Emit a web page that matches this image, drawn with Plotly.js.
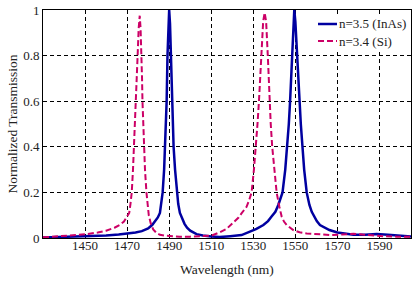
<!DOCTYPE html>
<html>
<head>
<meta charset="utf-8">
<script src="https://cdn.plot.ly/plotly-3.0.1.min.js"></script>
<style>html,body{margin:0;padding:0;background:#fff;}#chart{width:417px;height:287px;}</style>
</head>
<body>
<div id="chart"></div>
<script>
// n = 3.5 (InAs) — blue solid
const wlInAs = [1430,1440,1450,1460,1466,1470,1474,1477,1480,1482,1483.5,1484.6,1485.6,1486.3,1486.9,1487.6,1488.1,1488.5,1488.8,1489.2,1489.6,1490.0,1490.4,1490.8,1491.3,1491.7,1492.1,1492.8,1493.7,1494.3,1495.1,1496.2,1497.3,1498.5,1500,1503,1506,1510,1514,1519,1524.4,1528.4,1531.5,1534.8,1537,1538.7,1540.5,1541.9,1543.9,1545.2,1546.2,1546.9,1547.5,1548.4,1549.0,1549.5,1550.0,1550.8,1551.9,1552.6,1553.4,1554.2,1555.4,1556.7,1557.8,1558.9,1560.2,1561.7,1566.2,1570,1577.6,1583,1588.7,1594,1599.8,1605];
const tInAs  = [0.002,0.004,0.006,0.011,0.015,0.019,0.024,0.030,0.042,0.058,0.075,0.090,0.110,0.150,0.200,0.300,0.400,0.500,0.600,0.800,0.940,1.000,0.940,0.800,0.600,0.500,0.400,0.300,0.200,0.150,0.110,0.085,0.062,0.045,0.032,0.017,0.011,0.007,0.004,0.008,0.013,0.028,0.040,0.057,0.074,0.094,0.115,0.145,0.200,0.300,0.400,0.500,0.600,0.800,0.950,1.000,0.950,0.800,0.600,0.500,0.400,0.300,0.200,0.145,0.115,0.094,0.074,0.057,0.035,0.024,0.014,0.014,0.017,0.014,0.012,0.007];

// n = 3.4 (Si) — magenta dashed
const wlSi = [1430,1440,1450,1456,1460,1464,1466.5,1468.5,1470,1471,1471.6,1472.2,1472.8,1473.3,1473.7,1474.1,1474.6,1475.0,1475.5,1476.0,1476.4,1476.9,1477.1,1477.3,1477.6,1478.0,1478.5,1479.2,1479.8,1480.3,1481.2,1482.4,1484,1485.6,1488,1490,1495,1500,1505,1510,1514,1517.3,1520.5,1523,1524.4,1526.8,1528,1529.2,1530.3,1531.3,1532.0,1532.7,1533.8,1534.7,1535.4,1536.1,1536.9,1537.6,1538.3,1539.0,1539.9,1541.1,1542.4,1543.5,1544.6,1545.9,1549,1552,1555.4,1560,1566.5,1572,1577.6,1582,1585.6,1592,1598.3,1605];
const tSi  = [0.003,0.008,0.016,0.024,0.032,0.045,0.057,0.072,0.093,0.110,0.150,0.200,0.300,0.400,0.500,0.600,0.700,0.800,0.920,0.975,0.920,0.800,0.700,0.600,0.500,0.400,0.300,0.200,0.140,0.100,0.065,0.038,0.022,0.014,0.010,0.008,0.006,0.006,0.007,0.010,0.025,0.040,0.068,0.090,0.108,0.137,0.165,0.200,0.300,0.400,0.500,0.600,0.800,0.950,0.988,0.950,0.800,0.600,0.500,0.400,0.300,0.200,0.137,0.094,0.072,0.057,0.035,0.025,0.020,0.016,0.013,0.015,0.019,0.015,0.012,0.008,0.006,0.005];

const seriesNames = ['n=3.5 (InAs)', 'n=3.4 (Si)'];
const xTicks = [1450,1470,1490,1510,1530,1550,1570,1590];
const yTicks = [0,0.2,0.4,0.6,0.8,1];
const yTickText = ['0','0.2','0.4','0.6','0.8','1'];

const serif = 'Liberation Serif, Times New Roman, serif';
const blue = '#0000A0', magenta = '#CC0066';

const traces = [
  {x: wlInAs, y: tInAs, type:'scatter', mode:'lines', name:seriesNames[0],
   line:{color:blue, width:2.5}},
  {x: wlSi, y: tSi, type:'scatter', mode:'lines', name:seriesNames[1],
   line:{color:magenta, width:2, dash:'6px,3px'}}
];

// custom legend placed in paper coordinates (plot area 43..411 x 10..238 px)
const W = 368, H = 228;
const px = v => (v - 43) / W;
const py = v => (238 - v) / H;

const layout = {
  width:417, height:287,
  margin:{l:43, r:6, t:10, b:49, pad:0},
  paper_bgcolor:'#fff', plot_bgcolor:'#fff',
  font:{family:serif, size:13, color:'#222'},
  showlegend:false,
  shapes:[
    {type:'rect', xref:'paper', yref:'paper', x0:px(315), x1:px(409), y0:py(49), y1:py(16),
     fillcolor:'#fff', line:{width:0}, layer:'above'},
    {type:'line', xref:'paper', yref:'paper', x0:px(318), x1:px(337), y0:py(24), y1:py(24),
     line:{color:blue, width:2.5}, layer:'above'},
    {type:'line', xref:'paper', yref:'paper', x0:px(318), x1:px(337), y0:py(41), y1:py(41),
     line:{color:magenta, width:2, dash:'6px,3px'}, layer:'above'}
  ],
  annotations:[
    {xref:'paper', yref:'paper', x:px(337), y:py(24), xanchor:'left', yanchor:'middle',
     text:seriesNames[0], showarrow:false, font:{family:serif, size:13, color:'#222'}},
    {xref:'paper', yref:'paper', x:px(337), y:py(41), xanchor:'left', yanchor:'middle',
     text:seriesNames[1], showarrow:false, font:{family:serif, size:13, color:'#222'}}
  ],
  xaxis:{range:[1430,1605], tickvals:xTicks, ticktext:xTicks.map(String), ticks:'',
         showline:true, mirror:true, linecolor:'#000', linewidth:1,
         showgrid:true, gridcolor:'#000', gridwidth:1, griddash:'4px,3px', zeroline:false,
         ticklabelstandoff:-5,
         tickfont:{family:serif, size:13, color:'#222'},
         title:{text:'Wavelength (nm)', font:{family:serif, size:13.5, color:'#222'}, standoff:12}},
  yaxis:{range:[0,1], tickvals:yTicks, ticktext:yTickText, ticks:'',
         showline:true, mirror:true, linecolor:'#000', linewidth:1,
         showgrid:true, gridcolor:'#000', gridwidth:1, griddash:'4px,3px', zeroline:false,
         tickfont:{family:serif, size:13, color:'#222'},
         title:{text:'Normalized Transmission', font:{family:serif, size:13.5, color:'#222'}, standoff:2}}
};

Plotly.newPlot('chart', traces, layout, {staticPlot:true, displayModeBar:false});
</script>
</body>
</html>
